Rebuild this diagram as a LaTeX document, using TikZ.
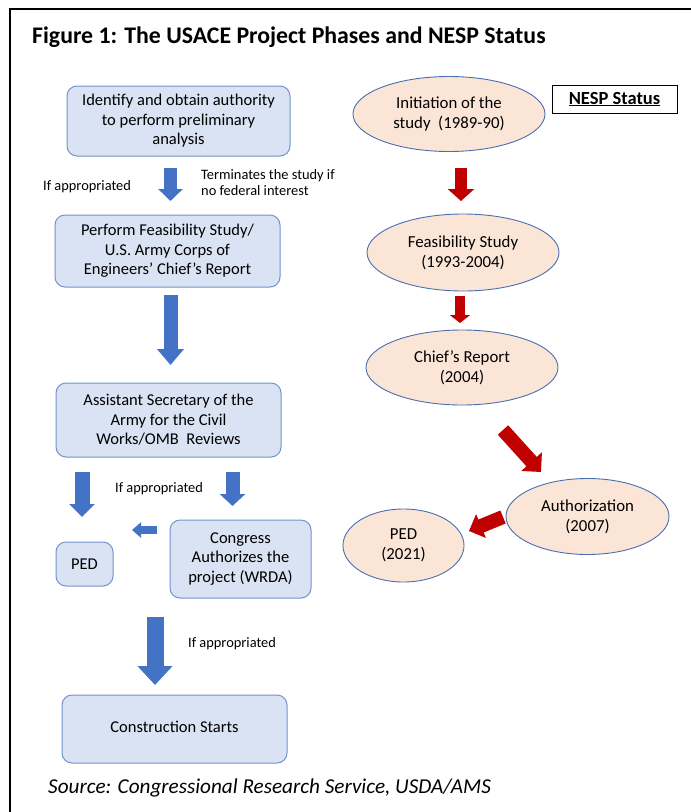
\documentclass[tikz,border=0pt]{standalone}
\usepackage{fontspec}
\setmainfont{Carlito}
\usetikzlibrary{shapes.geometric, arrows.meta}

\definecolor{boxblue}{HTML}{DAE3F3}
\definecolor{edgeblue}{HTML}{7293CB}
\definecolor{arrblue}{HTML}{4472C4}
\definecolor{peach}{HTML}{FBE5D6}
\definecolor{ringblue}{HTML}{4A6FB0}
\definecolor{arrred}{HTML}{C00000}

\begin{document}
\begin{tikzpicture}[x=1pt, y=-1pt,
    phase/.style={draw=edgeblue, fill=boxblue, line width=1pt, rounded corners=10pt,
        align=center, inner sep=0pt, font=\fontsize{16.5}{19.5}\selectfont},
    status/.style={ellipse, draw=ringblue, fill=peach, line width=0.9pt,
        align=center, inner sep=0pt, font=\fontsize{16.8}{20}\selectfont},
    note/.style={align=left, inner sep=0pt, font=\fontsize{14.4}{16}\selectfont},
    blk/.style n args={3}{line width=#1, -{Triangle[length=#2, width=#3]}},
    bluearr/.style={arrblue},
    redarr/.style={arrred}]
    \useasboundingbox (0,0) rectangle (691,812);

    % frame
    \draw[line width=1.8pt] (691,9) -- (10,9) -- (10,812);

    \node[anchor=base west, inner sep=0pt] (title) at (32,43)
        {\fontsize{23.8}{26}\selectfont\bfseries Figure 1: The USACE Project Phases and NESP Status};

    % USACE phases
    \node[phase, minimum width=223pt, minimum height=70pt] (ident) at (178.5,121)
        {Identify and obtain authority\\to perform preliminary\\analysis};
    \node[phase, minimum width=225pt, minimum height=72pt] (feas) at (167.5,251)
        {Perform Feasibility Study/\\U.S. Army Corps of\\Engineers’ Chief’s Report};
    \node[phase, minimum width=225pt, minimum height=74pt] (asa) at (168.5,420)
        {Assistant Secretary of the\\Army for the Civil\\Works/OMB~ Reviews};
    \node[phase, minimum width=57pt, minimum height=44pt] (ped) at (84.5,564) {PED};
    \node[phase, minimum width=141pt, minimum height=78pt] (cong) at (240.5,559)
        {Congress\\Authorizes the\\project (WRDA)};
    \node[phase, minimum width=225pt, minimum height=68pt] (build) at (174.5,729)
        {\raisebox{5pt}{Construction Starts}};

    \node[note, anchor=west] (ifapp1) at (43,187) {If appropriated};
    \node[note, anchor=west] (term) at (201,183) {Terminates the study if\\no federal interest};
    \node[note, anchor=west] (ifapp2) at (115,489) {If appropriated};
    \node[note, anchor=west] (ifapp3) at (188,644) {If appropriated};

    \coordinate (a1s) at (170.5,168);  \coordinate (a1e) at (170.5,201);
    \coordinate (a2s) at (170.5,295);  \coordinate (a2e) at (170.5,365);
    \coordinate (a3s) at (82,472);     \coordinate (a3e) at (82,517);
    \coordinate (a4s) at (232.5,472);  \coordinate (a4e) at (232.5,506);
    \coordinate (a5s) at (157,530);    \coordinate (a5e) at (132,530);
    \coordinate (a6s) at (155,617);    \coordinate (a6e) at (155,685);

    \draw[bluearr, blk={13pt}{12pt}{24pt}] (a1s) -- (a1e);
    \draw[bluearr, blk={14pt}{16pt}{26pt}] (a2s) -- (a2e);
    \draw[bluearr, blk={15pt}{13pt}{25pt}] (a3s) -- (a3e);
    \draw[bluearr, blk={14pt}{12pt}{25pt}] (a4s) -- (a4e);
    \draw[bluearr, blk={8pt}{9pt}{15pt}] (a5s) -- (a5e);
    \draw[bluearr, blk={17pt}{19pt}{34pt}] (a6s) -- (a6e);

    % NESP status
    \node[draw, line width=0.8pt, minimum width=125pt, minimum height=28pt] (nesp) at (614.5,99)
        {\fontsize{18.5}{19}\selectfont\bfseries\underline{NESP Status}};

    \node[status, minimum width=192pt, minimum height=75pt] (init) at (449,114)
        {Initiation of the\\study~ (1989-90)};
    \node[status, minimum width=192pt, minimum height=77pt] (fstudy) at (463,252.5)
        {Feasibility Study\\(1993-2004)};
    \node[status, minimum width=192pt, minimum height=75pt] (chief) at (462,367.5)
        {Chief’s Report\\(2004)};
    \node[status, minimum width=163pt, minimum height=76pt] (auth) at (587.5,516.5)
        {Authorization\\(2007)};
    \node[status, minimum width=121pt, minimum height=73pt] (pedst) at (403.5,545.5)
        {PED\\(2021)};

    \coordinate (r1s) at (461,168);  \coordinate (r1e) at (461,201);
    \coordinate (r2s) at (460,296);  \coordinate (r2e) at (460,323);
    \coordinate (r3s) at (503,430);  \coordinate (r3e) at (541,472);
    \coordinate (r4s) at (503,517);  \coordinate (r4e) at (469,531);

    \draw[redarr, blk={12pt}{12pt}{26pt}] (r1s) -- (r1e);
    \draw[redarr, blk={10pt}{8pt}{20pt}] (r2s) -- (r2e);
    \draw[redarr, blk={14pt}{14pt}{27pt}] (r3s) -- (r3e);
    \draw[redarr, blk={14pt}{13pt}{25pt}] (r4s) -- (r4e);

    \node[anchor=base west, inner sep=0pt] (src) at (48,793)
        {\fontsize{21.2}{24}\selectfont\itshape Source: Congressional Research Service, USDA/AMS};
\end{tikzpicture}
\end{document}
